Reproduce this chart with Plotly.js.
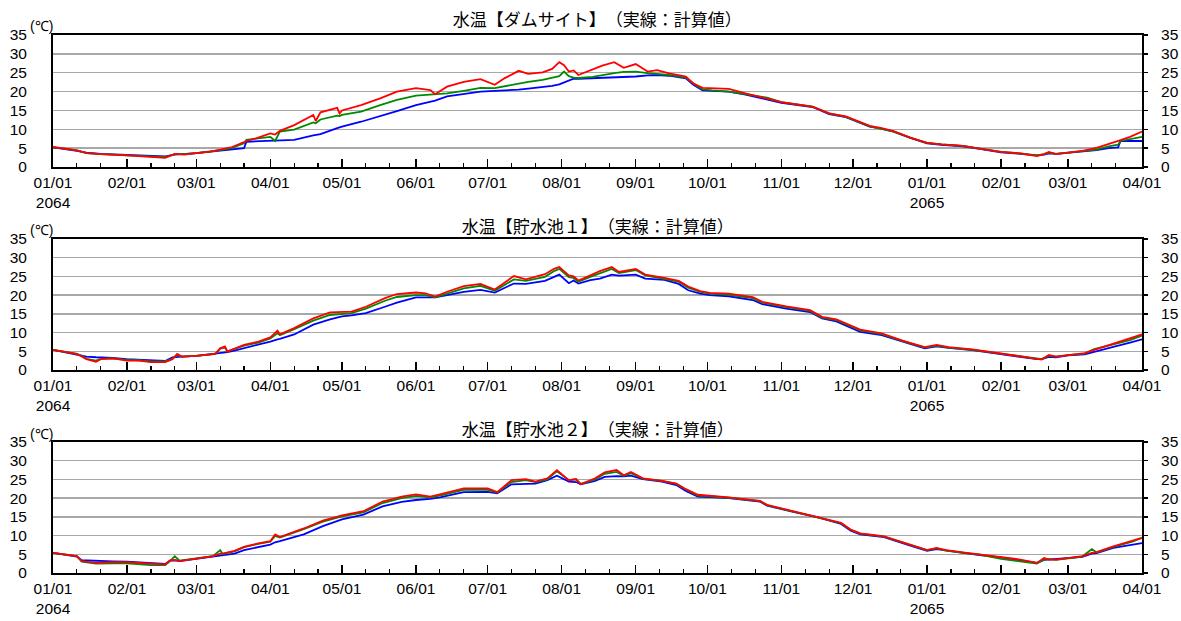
<!DOCTYPE html>
<html>
<head>
<meta charset="utf-8">
<script src="https://cdn.plot.ly/plotly-3.0.1.min.js"></script>
<style>
html,body{margin:0;padding:0;background:#fff;}
#chart{width:1181px;height:621px;}
#chart text{text-spacing-trim:space-all;}
</style>
</head>
<body>
<div id="chart"></div>
<script>
// ---------- titles ----------
const panelTitles = [
  "水温【ダムサイト】（実線：計算値）",
  "水温【貯水池１】（実線：計算値）",
  "水温【貯水池２】（実線：計算値）"
];
const unitLabel = "(℃)";

// ---------- x tick labels ----------
const monthTicks = ["2064-01-01","2064-02-01","2064-03-01","2064-04-01","2064-05-01","2064-06-01",
  "2064-07-01","2064-08-01","2064-09-01","2064-10-01","2064-11-01","2064-12-01",
  "2065-01-01","2065-02-01","2065-03-01","2065-04-01"];
const monthTickText = ["01/01<br>2064","02/01","03/01","04/01","05/01","06/01","07/01","08/01",
  "09/01","10/01","11/01","12/01","01/01<br>2065","02/01","03/01","04/01"];

// ---------- Panel 1 : dam site ----------
const damDates = ["2064-01-01","2064-01-06","2064-01-11","2064-01-15","2064-01-21","2064-02-01","2064-02-11","2064-02-17",
"2064-02-21","2064-02-25","2064-03-01","2064-03-07","2064-03-11","2064-03-16","2064-03-21","2064-03-22","2064-03-26",
"2064-04-01","2064-04-03","2064-04-05","2064-04-11","2064-04-19","2064-04-20","2064-04-22","2064-04-29","2064-04-30",
"2064-05-01","2064-05-09","2064-05-17","2064-05-24","2064-06-01","2064-06-07","2064-06-09","2064-06-14","2064-06-21",
"2064-06-28","2064-07-04","2064-07-08","2064-07-14","2064-07-18","2064-07-24","2064-07-28","2064-07-31","2064-08-02",
"2064-08-04","2064-08-06","2064-08-08","2064-08-14","2064-08-18","2064-08-23","2064-08-27","2064-09-01","2064-09-06",
"2064-09-10","2064-09-15","2064-09-22","2064-09-25","2064-09-29","2064-10-03","2064-10-10","2064-10-17","2064-10-26",
"2064-11-01","2064-11-14","2064-11-21","2064-11-28","2064-12-08","2064-12-13","2064-12-18","2064-12-25","2065-01-01",
"2065-01-07","2065-01-16","2065-01-23","2065-02-01","2065-02-09","2065-02-16","2065-02-19","2065-02-21","2065-02-24",
"2065-03-01","2065-03-07","2065-03-13","2065-03-18","2065-03-22","2065-03-23","2065-03-27","2065-04-01"];
const damRed = [5.3,4.9,4.4,3.7,3.4,3.1,2.7,2.4,3.5,3.3,3.7,4.1,4.6,5.3,6.6,6.9,7.6,
8.9,8.6,9.6,11.1,13.8,12.2,14.5,15.7,14.2,15.0,16.4,18.2,20.0,20.9,20.4,19.3,21.3,22.6,
23.3,21.8,23.5,25.5,24.7,25.1,26.0,27.8,27.0,25.3,25.6,24.4,26.0,26.9,27.8,26.3,27.3,25.3,
25.7,24.8,24.0,22.2,21.0,20.9,20.7,19.5,18.2,17.2,16.0,14.2,13.4,10.9,10.3,9.5,7.8,6.4,
6.0,5.6,4.9,4.0,3.6,2.9,3.4,4.0,3.4,3.8,4.3,5.1,6.0,6.9,7.1,8.0,9.4];
const damGreen = [5.2,4.9,4.4,3.7,3.4,3.1,2.8,2.6,3.4,3.4,3.7,4.1,4.5,5.1,6.3,7.2,7.5,
8.0,6.9,9.4,9.9,11.8,11.6,12.6,13.6,13.5,13.8,14.7,16.4,17.8,18.9,19.2,19.3,19.5,20.2,
21.0,20.9,21.4,22.2,22.6,23.1,23.6,24.1,25.3,24.1,23.7,23.6,23.9,24.4,24.9,25.2,25.3,24.9,
24.7,24.4,23.7,22.2,20.6,20.3,20.0,19.3,18.4,17.2,16.0,14.2,13.3,10.8,10.2,9.4,7.7,6.4,
6.0,5.6,4.9,4.0,3.6,3.1,3.4,3.8,3.5,3.8,4.2,4.6,5.5,5.9,6.9,7.3,8.0];
const damBlue = [5.2,4.8,4.3,3.8,3.5,3.2,2.9,2.8,3.3,3.4,3.7,4.1,4.4,4.7,5.0,6.7,6.8,
6.8,6.9,7.0,7.2,8.4,8.5,8.7,10.3,10.5,10.7,12.0,13.4,14.8,16.4,17.3,17.6,18.7,19.4,
20.0,20.2,20.3,20.5,20.8,21.2,21.5,21.9,22.4,23.0,23.4,23.4,23.5,23.6,23.8,23.9,24.0,24.3,
24.4,24.2,23.5,21.9,20.3,20.2,20.0,19.2,18.0,17.0,15.9,14.0,13.2,10.7,10.2,9.4,7.7,6.3,
5.9,5.5,4.8,3.9,3.5,3.1,3.3,3.6,3.5,3.8,4.1,4.5,5.0,5.2,6.9,6.9,6.9];

// ---------- Panel 2 : reservoir 1 ----------
const res1Dates = ["2064-01-01","2064-01-11","2064-01-13","2064-01-15","2064-01-19","2064-01-21","2064-01-26","2064-02-01",
"2064-02-06","2064-02-11","2064-02-17","2064-02-20","2064-02-22","2064-02-24","2064-03-01","2064-03-06","2064-03-09",
"2064-03-11","2064-03-13","2064-03-14","2064-03-17","2064-03-21","2064-03-27","2064-04-01","2064-04-04","2064-04-05",
"2064-04-11","2064-04-19","2064-04-26","2064-05-01","2064-05-05","2064-05-11","2064-05-19","2064-05-24","2064-06-01",
"2064-06-05","2064-06-09","2064-06-14","2064-06-21","2064-06-28","2064-07-04","2064-07-12","2064-07-17","2064-07-25",
"2064-07-29","2064-07-31","2064-08-04","2064-08-06","2064-08-08","2064-08-13","2064-08-17","2064-08-22","2064-08-25",
"2064-09-01","2064-09-05","2064-09-13","2064-09-19","2064-09-23","2064-09-28","2064-10-02","2064-10-10","2064-10-20",
"2064-10-24","2064-11-03","2064-11-13","2064-11-18","2064-11-24","2064-12-04","2064-12-13","2064-12-22","2064-12-31",
"2065-01-05","2065-01-10","2065-01-20","2065-01-27","2065-02-01","2065-02-09","2065-02-16","2065-02-18","2065-02-21",
"2065-02-24","2065-03-01","2065-03-08","2065-03-12","2065-03-20","2065-03-27","2065-04-01"];
const res1Red = [5.4,4.3,3.6,2.9,2.2,2.9,3.1,2.5,2.5,2.1,2.1,2.9,4.3,3.6,3.8,4.2,4.3,
5.8,6.3,4.9,5.6,6.7,7.6,8.7,10.5,9.5,11.2,13.8,15.4,15.6,15.6,16.9,19.2,20.3,20.7,
20.5,19.6,20.9,22.4,23.0,21.5,25.1,24.2,25.6,27.1,27.5,25.3,25.0,23.9,25.3,26.4,27.5,26.2,
27.0,25.5,24.6,23.8,22.3,21.1,20.6,20.4,19.5,18.2,17.0,16.0,14.2,13.5,10.8,9.8,7.8,6.1,
6.7,6.1,5.5,4.9,4.3,3.7,3.0,2.8,4.0,3.6,4.0,4.5,5.4,7.0,8.3,9.5];
const res1Green = [5.4,4.3,3.8,3.0,2.5,3.0,3.1,2.7,2.6,2.3,2.3,3.0,4.0,3.6,3.8,4.2,4.3,
5.7,6.0,5.0,5.7,6.5,7.3,8.4,9.8,9.3,10.9,13.2,14.7,15.0,15.2,16.4,18.5,19.5,20.0,
20.0,19.4,20.4,21.8,22.5,21.2,24.2,23.8,24.9,26.5,27.0,24.8,24.6,23.6,24.9,25.9,27.0,25.9,
26.7,25.3,24.4,23.6,22.0,20.9,20.4,20.1,19.2,18.0,16.8,15.8,14.0,13.3,10.6,9.6,7.7,6.0,
6.5,6.0,5.4,4.8,4.2,3.6,3.0,2.9,3.8,3.6,4.0,4.4,5.6,6.8,8.0,9.2];
const res1Blue = [5.4,4.2,4.0,3.6,3.4,3.4,3.2,2.9,2.8,2.5,2.4,3.4,3.6,3.6,3.8,4.2,4.3,
4.6,4.8,4.8,5.2,5.8,6.8,7.6,8.2,8.3,9.5,12.1,13.5,14.3,14.6,15.2,16.9,18.0,19.4,
19.4,19.4,20.0,20.9,21.4,20.7,23.1,23.0,23.8,25.0,25.5,23.2,23.9,23.1,24.0,24.4,25.5,25.2,
25.5,24.4,24.1,23.0,21.3,20.4,20.0,19.7,18.7,17.6,16.4,15.5,13.8,13.0,10.2,9.3,7.6,5.8,
6.3,5.9,5.3,4.7,4.1,3.4,2.9,2.9,3.5,3.4,3.9,4.2,4.8,6.2,7.3,8.2];

// ---------- Panel 3 : reservoir 2 ----------
const res2Dates = ["2064-01-01","2064-01-11","2064-01-13","2064-01-19","2064-01-26","2064-02-01","2064-02-11","2064-02-17",
"2064-02-19","2064-02-21","2064-02-23","2064-03-01","2064-03-08","2064-03-11","2064-03-12","2064-03-17","2064-03-21",
"2064-03-27","2064-04-01","2064-04-03","2064-04-05","2064-04-15","2064-04-23","2064-05-01","2064-05-10","2064-05-18",
"2064-05-26","2064-06-01","2064-06-07","2064-06-11","2064-06-21","2064-07-01","2064-07-05","2064-07-11","2064-07-17",
"2064-07-21","2064-07-26","2064-07-30","2064-08-04","2064-08-07","2064-08-09","2064-08-15","2064-08-19","2064-08-24",
"2064-08-27","2064-08-30","2064-09-04","2064-09-12","2064-09-18","2064-09-22","2064-09-27","2064-10-10","2064-10-23",
"2064-10-26","2064-11-06","2064-11-16","2064-11-26","2064-11-30","2064-12-04","2064-12-14","2064-12-24","2065-01-01",
"2065-01-05","2065-01-09","2065-01-16","2065-01-23","2065-02-01","2065-02-09","2065-02-16","2065-02-19","2065-02-21",
"2065-02-24","2065-03-01","2065-03-07","2065-03-11","2065-03-13","2065-03-20","2065-03-28","2065-04-01"];
const res2Red = [5.4,4.5,3.2,2.7,2.9,2.9,2.5,2.3,3.4,3.5,3.2,3.8,4.5,5.2,5.2,5.9,7.0,
7.9,8.5,10.3,9.6,11.9,14.0,15.4,16.5,19.1,20.4,21.0,20.4,21.0,22.6,22.6,21.6,24.8,25.1,
24.4,25.3,27.5,24.8,25.1,23.7,25.3,26.9,27.5,26.1,27.0,25.3,24.6,23.9,22.4,20.9,20.2,19.3,
18.2,16.5,15.1,13.4,11.6,10.6,9.8,7.8,6.1,6.7,6.1,5.5,4.9,4.3,3.6,2.7,4.0,3.6,
3.6,4.0,4.5,5.4,5.6,7.1,8.5,9.4];
const res2Green = [5.4,4.5,3.0,2.5,2.6,2.6,2.1,2.1,3.2,4.5,3.3,3.8,4.5,6.1,5.1,5.8,6.9,
7.8,8.4,9.9,9.5,11.7,13.7,15.1,16.2,18.7,20.0,20.6,20.2,20.7,22.2,22.2,21.5,24.3,24.8,
24.3,25.0,27.2,24.8,25.0,23.8,25.0,26.5,27.0,26.0,26.7,25.2,24.6,23.8,22.3,20.7,20.1,19.2,
18.1,16.4,15.0,13.3,11.5,10.5,9.7,7.7,6.1,6.6,6.0,5.4,4.9,3.8,3.1,2.5,3.6,3.7,
3.5,4.0,4.4,6.4,5.5,7.0,8.4,9.4];
const res2Blue = [5.4,4.4,3.4,3.2,3.1,3.0,2.6,2.4,3.3,3.4,3.2,3.8,4.3,4.7,4.8,5.2,6.1,
6.9,7.6,8.2,8.5,10.3,12.5,14.3,15.6,17.8,19.0,19.5,19.8,20.2,21.6,21.7,21.3,23.7,23.8,
23.9,24.8,26.0,24.4,24.3,23.7,24.6,25.7,25.9,25.8,26.0,25.1,24.4,23.5,21.9,20.4,20.0,19.1,
18.0,16.3,14.9,13.1,11.3,10.3,9.6,7.5,5.9,6.4,6.0,5.4,4.8,4.2,3.5,2.7,3.5,3.6,
3.6,3.9,4.3,5.2,5.3,6.7,7.6,8.0];

// ---------- build ----------
const COL = {blue:"#0000ff", green:"#008a00", red:"#ff0000"};
const panels = [
  {d:damDates, b:damBlue, g:damGreen, r:damRed},
  {d:res1Dates, b:res1Blue, g:res1Green, r:res1Red},
  {d:res2Dates, b:res2Blue, g:res2Green, r:res2Red}
];
const traces = [];
panels.forEach((p,i)=>{
  const xa = i===0 ? "x" : "x"+(i+1);
  const ya = i===0 ? "y" : "y"+(i+1);
  [["b","blue"],["g","green"],["r","red"]].forEach(([k,c])=>{
    traces.push({x:p.d, y:p[k], xaxis:xa, yaxis:ya, type:"scatter", mode:"lines",
      line:{color:COL[c], width:1.8}, hoverinfo:"skip", showlegend:false});
  });
});

// minor ticks on 11th and 21st of each month
const minorVals = [];
monthTicks.slice(0,-1).forEach(m=>{
  minorVals.push(m.slice(0,8)+"11", m.slice(0,8)+"21");
});

const tickFont = {family:"Liberation Sans, Arial, sans-serif", size:15.5, color:"#000"};
const H = 621, T = 35, B = 48, L = 53, R = 39;
const plotH = H - T - B;
function pf(px){ return (H - B - px)/plotH; }
const domains = [[pf(167),1],[pf(370),pf(239)],[0,pf(442)]];

const layout = {
  width:1181, height:621,
  margin:{l:L, r:R, t:T, b:B, pad:0},
  paper_bgcolor:"#fff", plot_bgcolor:"#fff",
  showlegend:false,
  annotations:[]
};
for(let i=0;i<3;i++){
  const sfx = i===0 ? "" : String(i+1);
  layout["xaxis"+sfx] = {
    type:"date", range:["2064-01-01","2065-04-01"], anchor:"y"+sfx,
    tickmode:"array", tickvals:monthTicks, ticktext:monthTickText,
    ticks:"inside", ticklen:8, tickwidth:1.5, tickcolor:"#000",
    minor:{tickmode:"array", tickvals:minorVals, ticks:"inside", ticklen:4, tickwidth:1.2, tickcolor:"#000", showgrid:false},
    showgrid:false, zeroline:false, showline:true, linecolor:"#000", linewidth:2, mirror:true,
    tickfont:tickFont, fixedrange:true
  };
  layout["yaxis"+sfx] = {
    domain:domains[i], anchor:"x"+sfx, range:[0,35], tickmode:"linear", tick0:0, dtick:5,
    ticks:"", showgrid:true, gridcolor:"#a8a8a8", gridwidth:1.5, zeroline:false,
    showline:true, linecolor:"#000", linewidth:2, mirror:true,
    tickfont:tickFont, ticklabelstandoff:21, fixedrange:true
  };
  const rs = String(i+4);
  layout["yaxis"+rs] = {
    overlaying:"y"+sfx, side:"right", anchor:"x"+sfx, range:[0,35], tickmode:"linear", tick0:0, dtick:5,
    ticks:"outside", ticklen:5, tickwidth:1.5, tickcolor:"#000", ticklabelstandoff:10,
    showgrid:false, zeroline:false, showline:false, tickfont:tickFont, fixedrange:true
  };
}
const titleY = [19, 225, 428];
const unitY = [26, 230, 434];
for(let i=0;i<3;i++){
  layout.annotations.push({text:panelTitles[i], xref:"paper", yref:"paper", x:0.5, y:pf(titleY[i]),
    xanchor:"center", yanchor:"middle", showarrow:false,
    font:{family:"Noto Sans CJK JP, sans-serif", size:17, color:"#000"}});
  layout.annotations.push({text:unitLabel, xref:"paper", yref:"paper", x:(41-L)/(1181-L-R), y:pf(unitY[i]),
    xanchor:"center", yanchor:"middle", showarrow:false,
    font:{family:"Liberation Sans, Arial, sans-serif", size:14, color:"#000"}});
}
// right-axis traces need a subplot: give each an empty hidden series
for(let i=0;i<3;i++){
  const sfx = i===0 ? "" : String(i+1);
  traces.push({x:[], y:[], xaxis:"x"+sfx, yaxis:"y"+(i+4), type:"scatter", mode:"lines", showlegend:false, hoverinfo:"skip"});
}
Plotly.newPlot("chart", traces, layout, {staticPlot:true, displayModeBar:false});
</script>
</body>
</html>
